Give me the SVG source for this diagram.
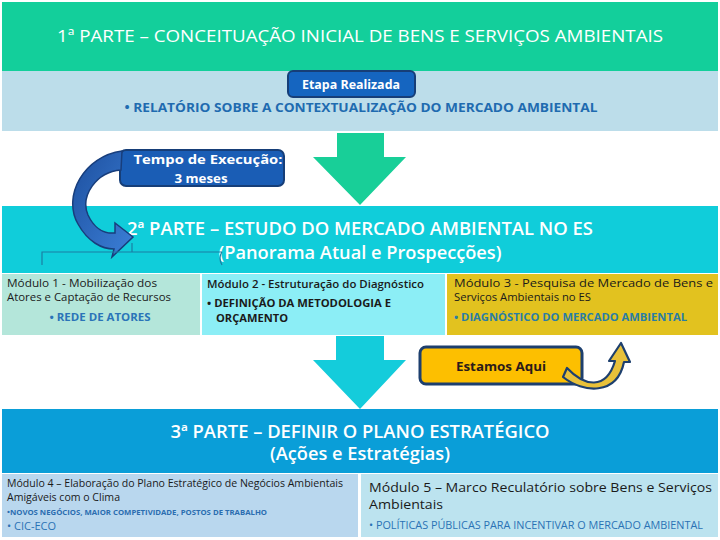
<svg xmlns="http://www.w3.org/2000/svg" width="720" height="540" viewBox="0 0 720 540">
<defs>
<style>
text{font-family:"Open Sans",Lato,"Liberation Sans",sans-serif}
.w{fill:#fff}
.ttl{font-size:17px}
.ttl2{font-size:18px;font-weight:600}
.b{font-weight:bold}
.m{font-size:11px;fill:#1a1a1a}
.blue{fill:#2A72B5}
.c{text-anchor:middle}
</style>
<linearGradient id="gBlue" x1="0" y1="0" x2="1" y2="1">
<stop offset="0" stop-color="#1D4F9E"/>
<stop offset="1" stop-color="#3C80D8"/>
</linearGradient>
</defs>
<rect x="0" y="0" width="720" height="540" fill="#fff"/>

<g id="parte1">
<rect x="2" y="2" width="716" height="69" fill="#13CF9B"/>
<text class="w ttl" x="360" y="42" text-anchor="middle" textLength="606" lengthAdjust="spacingAndGlyphs">1ª PARTE – CONCEITUAÇÃO INICIAL DE BENS E SERVIÇOS AMBIENTAIS</text>
</g>

<g id="etapa-realizada-band">
<rect x="2" y="71" width="716" height="60" fill="#BCDDEA"/>
<text x="361" y="112" font-size="13" font-weight="bold" fill="#1F6BB0" text-anchor="middle" textLength="473" lengthAdjust="spacingAndGlyphs">• RELATÓRIO SOBRE A CONTEXTUALIZAÇÃO DO MERCADO AMBIENTAL</text>
</g>

<g id="etapa-realizada">
<rect x="288" y="71" width="127" height="26" rx="5" fill="#1565C0" stroke="#163E78" stroke-width="2"/>
<text class="w b c" x="351" y="89" font-size="13" textLength="98" lengthAdjust="spacingAndGlyphs">Etapa Realizada</text>
</g>

<g id="tempo-execucao">
<rect x="120" y="150" width="164" height="36" rx="6" fill="#1A5DB5" stroke="#163E78" stroke-width="2"/>
<text class="w b c" x="208" y="164" font-size="13" textLength="149" lengthAdjust="spacingAndGlyphs">Tempo de Execução:</text>
<text class="w b c" x="201" y="183" font-size="13" textLength="53" lengthAdjust="spacingAndGlyphs">3 meses</text>
</g>

<g id="parte2">
<rect x="2" y="206" width="716" height="67" fill="#10CDDA"/>
<text class="w ttl2" x="360" y="235" text-anchor="middle" textLength="466" lengthAdjust="spacingAndGlyphs">2ª PARTE – ESTUDO DO MERCADO AMBIENTAL NO ES</text>
<text class="w ttl2" x="360" y="259" text-anchor="middle" textLength="283" lengthAdjust="spacingAndGlyphs">(Panorama Atual e Prospecções)</text>
</g>

<g id="modulo1">
<rect x="2" y="274" width="198" height="61" fill="#B4E6DA"/>
<text class="m" x="7" y="287" font-size="10.5" textLength="150" lengthAdjust="spacingAndGlyphs">Módulo 1 - Mobilização dos</text>
<text class="m" x="7" y="301" font-size="10.5" textLength="164" lengthAdjust="spacingAndGlyphs">Atores e Captação de Recursos</text>
<text x="100" y="321" font-size="11" font-weight="bold" fill="#2A74B8" text-anchor="middle" textLength="101" lengthAdjust="spacingAndGlyphs">• REDE DE ATORES</text>
</g>

<g id="modulo2">
<rect x="202" y="274" width="243" height="61" fill="#8CEEF6"/>
<text class="m" x="207" y="288" font-weight="600" textLength="217" lengthAdjust="spacingAndGlyphs">Módulo 2  - Estruturação do Diagnóstico</text>
<text class="m b" x="207" y="307" textLength="184" lengthAdjust="spacingAndGlyphs">• DEFINIÇÃO DA METODOLOGIA E</text>
<text class="m b" x="216" y="322" textLength="72" lengthAdjust="spacingAndGlyphs">ORÇAMENTO</text>
</g>

<g id="modulo3">
<rect x="447" y="274" width="271" height="61" fill="#E2C21F"/>
<text class="m" x="454" y="287" font-size="10.5" textLength="259" lengthAdjust="spacingAndGlyphs">Módulo 3 -  Pesquisa de Mercado de Bens e</text>
<text class="m" x="454" y="301" font-size="10.5" textLength="137" lengthAdjust="spacingAndGlyphs">Serviços Ambientais no ES</text>
<text x="454" y="321" font-size="11" font-weight="bold" fill="#2A7DA5" textLength="233" lengthAdjust="spacingAndGlyphs">• DIAGNÓSTICO DO MERCADO AMBIENTAL</text>
</g>

<g id="estamos-aqui">
<rect x="420" y="347" width="162" height="37" rx="6" fill="#FDBF00" stroke="#1D3F6E" stroke-width="3"/>
<text x="501" y="371" font-size="13" font-weight="bold" fill="#2B1A1A" text-anchor="middle" textLength="90" lengthAdjust="spacingAndGlyphs">Estamos Aqui</text>
</g>

<g id="parte3">
<rect x="2" y="409" width="716" height="64" fill="#0A9ED8"/>
<text class="w ttl2" x="360" y="438" text-anchor="middle" textLength="379" lengthAdjust="spacingAndGlyphs">3ª PARTE – DEFINIR O PLANO ESTRATÉGICO</text>
<text class="w ttl2" x="360" y="460" text-anchor="middle" textLength="180" lengthAdjust="spacingAndGlyphs">(Ações e Estratégias)</text>
</g>

<g id="modulo4">
<rect x="2" y="474" width="356" height="63" fill="#B9D7EE"/>
<text class="m" x="7" y="487" font-size="10" textLength="336" lengthAdjust="spacingAndGlyphs">Módulo 4 – Elaboração do Plano Estratégico de Negócios Ambientais</text>
<text class="m" x="7" y="501" font-size="10" textLength="113" lengthAdjust="spacingAndGlyphs">Amigáveis com o Clima</text>
<text x="7" y="515" font-size="6.5" font-weight="bold" fill="#2B6DB0" textLength="260" lengthAdjust="spacingAndGlyphs">•NOVOS NEGÓCIOS, MAIOR COMPETIVIDADE, POSTOS DE TRABALHO</text>
<text class="blue" x="7" y="530" font-size="10.5" textLength="49" lengthAdjust="spacingAndGlyphs">• CIC-ECO</text>
</g>

<g id="modulo5">
<rect x="361" y="474" width="357" height="63" fill="#BCE3EF"/>
<text x="369" y="492" font-size="13" fill="#1a1a1a" textLength="343" lengthAdjust="spacingAndGlyphs">Módulo 5 – Marco Reculatório sobre Bens e Serviços</text>
<text x="369" y="509" font-size="13" fill="#1a1a1a" textLength="74" lengthAdjust="spacingAndGlyphs">Ambientais</text>
<text class="blue" x="369" y="529" font-size="10.5" textLength="334" lengthAdjust="spacingAndGlyphs">• POLÍTICAS PÚBLICAS PARA INCENTIVAR O MERCADO AMBIENTAL</text>
</g>

<g id="connectors">
<polygon points="337,133 384,133 384,157 406,157 360,205 313,157 337,157" fill="#18CF98"/>
<polygon points="336,336 384,336 384,360 406,360 360,409 313,360 336,360" fill="#14CCDB"/>
<path d="M122,151 C84,156 62,196 78,224 C88,242 102,249 114,249 L112,257 L133,237 L115,223 L115,233 C104,234 94,228 88,215 C80,196 96,172 121,170 Z" fill="url(#gBlue)" stroke="#183E7C" stroke-width="1.5"/>
<path d="M42,265 L42,252 L222,252 M132,252 L132,243 M222,252 Q218,258 222,265" fill="none" stroke="#1B7FA3" stroke-width="1.2"/>
<path d="M567,368 C584,386 606,391 615,361 L609,361 L621,343 L630,362 L624,362 C617,396 583,393 563,377 Z" fill="#E8C13A" stroke="#1D3F6E" stroke-width="2.2" stroke-linejoin="round"/>
</g>
</svg>
